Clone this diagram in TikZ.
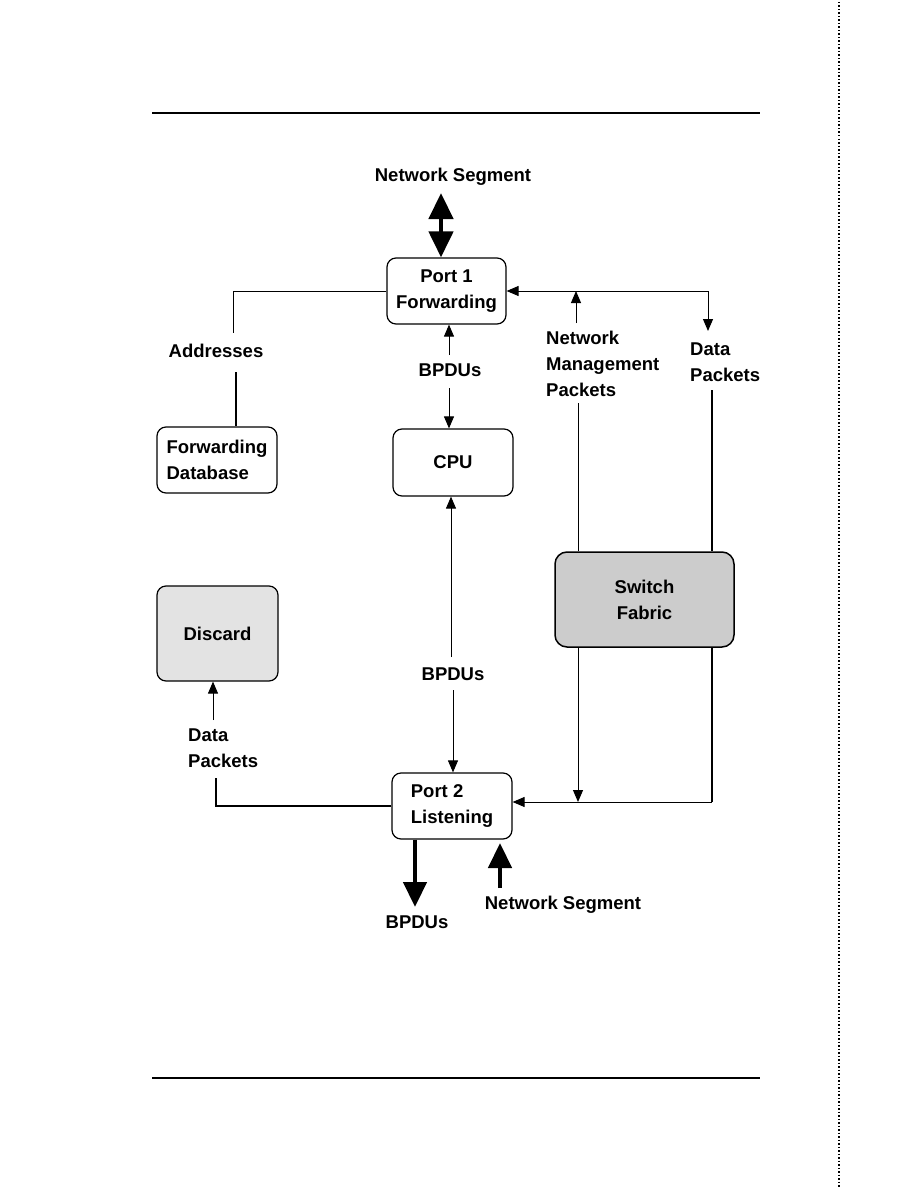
\documentclass[tikz,border=0pt]{standalone}
\usepackage{fontspec}
\setmainfont{Liberation Sans}
\usetikzlibrary{arrows.meta,calc}
\begin{document}
\begin{tikzpicture}[x=1pt,y=-1pt,
  box/.style={draw,line width=1.2pt,rounded corners=9pt,inner sep=0pt,font=\bfseries\fontsize{18.5}{26}\selectfont},
  lbl/.style={font=\bfseries\fontsize{18.5}{26}\selectfont,inner sep=1pt,align=left},
  thinline/.style={line width=1pt},
  thickline/.style={line width=2pt},
  arr/.style={line width=1pt,-{Triangle[length=12pt,width=10pt]}},
  big/.style={line width=4.5pt,-{Triangle[length=25pt,width=23pt]}},
  bigboth/.style={line width=4.5pt,{Triangle[length=26pt,width=24pt]}-{Triangle[length=26pt,width=24pt]}}]
\useasboundingbox (0,0) rectangle (918,1188);
% page rules
\coordinate (r1a) at (152,113); \coordinate (r1b) at (760,113);
\coordinate (r2a) at (152,1078); \coordinate (r2b) at (760,1078);
\coordinate (da) at (839,2); \coordinate (db) at (839,1188);
\draw[line width=2pt] (r1a) -- (r1b);
\draw[line width=2pt] (r2a) -- (r2b);
\draw[line width=1.5pt,dotted] (da) -- (db);
% boxes
\node[box,minimum width=119pt,minimum height=66pt,align=center] (p1) at (446.5,291) {Port 1\\Forwarding};
\node[box,minimum width=120pt,minimum height=66pt,align=left] (fd) at (217,460) {Forwarding\\Database};
\node[box,minimum width=120pt,minimum height=67pt] (cpu) at (453,462.5) {CPU};
\node[box,minimum width=121pt,minimum height=95pt,fill=black!11] (disc) at (217.5,633.5) {Discard};
\node[box,minimum width=179pt,minimum height=95pt,fill=black!20,line width=1.5pt,rounded corners=12pt,align=center] (fab) at (644.5,599.5) {Switch\\Fabric};
\node[box,minimum width=120pt,minimum height=66pt,align=left] (p2) at (452,806) {Port 2\\Listening};
% labels
\node[lbl] (ns1) at (453,177) {Network Segment};
\node[lbl] (addr) at (216,351) {Addresses};
\node[lbl] (bp1) at (450,370) {BPDUs};
\node[lbl,anchor=west] (nmp) at (545,364) {Network\\Management\\Packets};
\node[lbl,anchor=west] (dp1) at (689,362) {Data\\Packets};
\node[lbl] (bp2) at (453,674) {BPDUs};
\node[lbl,anchor=west] (dp2) at (187,748) {Data\\Packets};
\node[lbl] (bp3) at (417,922) {BPDUs};
\node[lbl] (ns2) at (563,905) {Network Segment};
% free ends
\coordinate (nsb) at (441,193);
\coordinate (addrtop) at (233,333);
\coordinate (addrbot) at (236,372);
\coordinate (b1top) at (449,355);
\coordinate (b1bot) at (449,388);
\coordinate (b2top) at (451,657);
\coordinate (b2bot) at (453,690);
\coordinate (rj) at (708,291);
\coordinate (dptip) at (708,331);
\coordinate (nmpb) at (576,323);
\coordinate (nmpt) at (576,291);
\coordinate (nmpl) at (578,403);
\coordinate (dpl) at (712,390);
\coordinate (fl) at (578,802);
\coordinate (fr) at (712,802);
\coordinate (dp2b) at (216,778);
\coordinate (dp2t) at (213,720);
\coordinate (bpdn) at (415,907);
\coordinate (nsup) at (500,888);
\coordinate (nsupt) at (500,843);
% connectors
\draw[bigboth] (nsb) -- (nsb |- p1.north);
\draw[thinline] (p1.west) -| (addrtop);
\draw[thickline] (addrbot) -- (addrbot |- fd.north);
\draw[arr] (b1top) -- (b1top |- p1.south);
\draw[arr] (b1bot) -- (b1bot |- cpu.north);
\draw[arr] (b2top) -- (b2top |- cpu.south);
\draw[arr] (b2bot) -- (b2bot |- p2.north);
\draw[arr] (rj) -- (p1.east |- rj);
\draw[arr] (rj) -- (dptip);
\draw[arr] (nmpb) -- (nmpt);
\draw[thinline] (nmpl) -- (nmpl |- fab.north);
\draw[thickline] (dpl) -- (dpl |- fab.north);
\draw[arr] (fl |- fab.south) -- (fl);
\draw[thickline] (fr |- fab.south) -- (fr);
\draw[arr] (fr) -- (p2.east |- fr);
\draw[line width=1.5pt] (p2.west) -| (dp2b);
\draw[arr] (dp2t) -- (dp2t |- disc.south);
\draw[big] (bpdn |- p2.south) -- (bpdn);
\draw[big] (nsup) -- (nsupt);
\end{tikzpicture}
\end{document}
